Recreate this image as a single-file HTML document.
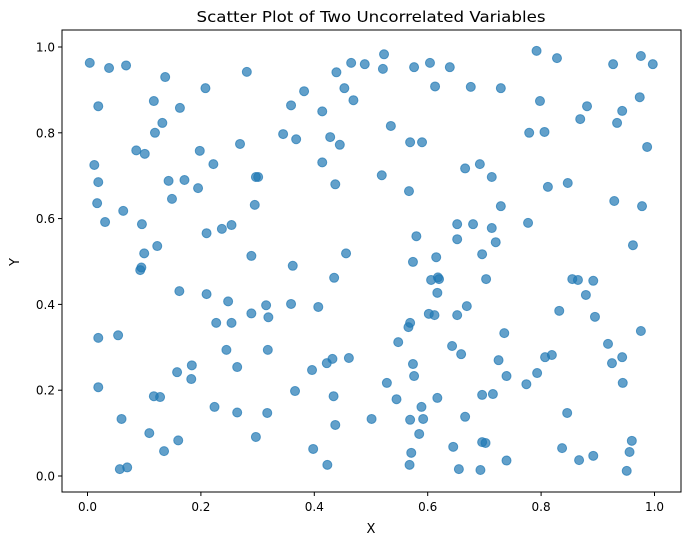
<!DOCTYPE html>
<html><head><meta charset="utf-8"><style>
html,body{margin:0;padding:0;background:#fff;}
svg{display:block;font-family:"DejaVu Sans","Liberation Sans",sans-serif;}
</style></head><body>
<svg id="chart" width="691" height="545" viewBox="0 0 691 545">
<rect x="0" y="0" width="691" height="545" fill="#fff"/>
<text x="371" y="22" text-anchor="middle" font-size="15" textLength="349" lengthAdjust="spacingAndGlyphs" fill="#000">Scatter Plot of Two Uncorrelated Variables</text>
<g id="points"></g>
<g id="axes"></g>
<rect x="62" y="30" width="619" height="462" fill="none" stroke="#000" stroke-width="1"/>
<text x="371" y="533" text-anchor="middle" font-size="13" fill="#000">X</text>
<text x="0" y="0" transform="translate(19,262) rotate(-90)" text-anchor="middle" font-size="13" fill="#000">Y</text>
</svg>
<script>
const xValues = [0.004,0.038,0.068,0.137,0.281,0.208,0.019,0.117,0.163,0.132,0.119,0.269,0.086,0.101,0.198,0.222,0.012,0.019,0.143,0.171,0.195,0.297,0.301,0.017,0.149,0.295,0.063,0.031,0.096,0.210,0.237,0.254,0.123,0.100,0.289,0.095,0.093,0.162,0.210,0.248,0.315,0.289,0.319,0.227,0.254,0.019,0.054,0.245,0.318,0.184,0.158,0.264,0.183,0.019,0.117,0.128,0.224,0.264,0.317,0.060,0.109,0.160,0.297,0.135,0.057,0.070,
0.523,0.465,0.489,0.439,0.521,0.576,0.604,0.639,0.382,0.453,0.613,0.676,0.359,0.469,0.414,0.535,0.345,0.368,0.428,0.445,0.569,0.590,0.414,0.666,0.692,0.519,0.437,0.567,0.652,0.680,0.580,0.652,0.456,0.615,0.574,0.696,0.362,
0.435,0.606,0.618,0.620,0.617,0.703,0.359,0.407,0.602,0.612,0.652,0.669,0.569,0.566,0.548,0.643,0.659,0.432,0.422,0.461,0.396,0.574,0.576,0.528,0.366,0.434,0.545,0.617,0.696,0.589,0.501,0.437,0.569,0.592,0.666,0.585,0.398,0.645,0.571,0.423,0.568,0.655,0.693,
0.792,0.828,0.927,0.976,0.997,0.729,0.798,0.881,0.869,0.943,0.934,0.974,0.779,0.806,0.987,0.713,0.812,0.847,0.929,0.978,0.729,0.713,0.777,0.720,0.962,
0.855,0.865,0.892,0.879,0.832,0.895,0.735,0.976,0.918,0.725,0.807,0.819,0.943,0.925,0.739,0.793,0.774,0.944,0.715,0.846,0.696,0.702,0.837,0.960,0.956,0.739,0.867,0.892,0.951];
const yValues = [0.963,0.951,0.957,0.930,0.942,0.904,0.862,0.874,0.858,0.823,0.800,0.774,0.759,0.751,0.758,0.727,0.725,0.685,0.688,0.690,0.671,0.697,0.697,0.636,0.646,0.632,0.618,0.592,0.587,0.566,0.576,0.585,0.536,0.519,0.513,0.486,0.480,0.431,0.424,0.407,0.398,0.379,0.370,0.357,0.357,0.322,0.328,0.294,0.294,0.258,0.242,0.254,0.226,0.207,0.186,0.184,0.161,0.148,0.147,0.133,0.100,0.083,0.091,0.058,0.016,0.020,
0.983,0.963,0.960,0.941,0.949,0.953,0.963,0.953,0.897,0.904,0.908,0.907,0.864,0.876,0.850,0.816,0.797,0.785,0.790,0.772,0.778,0.778,0.731,0.717,0.727,0.701,0.680,0.664,0.587,0.587,0.559,0.552,0.519,0.510,0.499,0.517,0.490,
0.462,0.457,0.463,0.459,0.427,0.459,0.401,0.394,0.378,0.375,0.375,0.396,0.357,0.347,0.312,0.303,0.284,0.273,0.263,0.275,0.247,0.261,0.233,0.217,0.198,0.186,0.179,0.182,0.189,0.161,0.133,0.119,0.131,0.133,0.138,0.098,0.063,0.068,0.054,0.026,0.026,0.016,0.014,
0.991,0.974,0.960,0.979,0.960,0.904,0.874,0.862,0.832,0.851,0.823,0.883,0.800,0.802,0.767,0.697,0.674,0.683,0.641,0.629,0.629,0.578,0.590,0.545,0.538,
0.459,0.457,0.455,0.422,0.385,0.371,0.333,0.338,0.308,0.270,0.277,0.282,0.277,0.263,0.233,0.240,0.214,0.217,0.191,0.147,0.079,0.077,0.065,0.082,0.056,0.036,0.037,0.047,0.012];
const xTicks = [0.0,0.2,0.4,0.6,0.8,1.0];
const xTickLabels = ["0.0","0.2","0.4","0.6","0.8","1.0"];
const yTicks = [0.0,0.2,0.4,0.6,0.8,1.0];
const yTickLabels = ["0.0","0.2","0.4","0.6","0.8","1.0"];

const NS = "http://www.w3.org/2000/svg";
function xScale(v){ return 87.5 + v*567; }
function yScale(v){ return 476 - v*429; }

const pg = document.getElementById('points');
for (let i = 0; i < xValues.length; i++) {
  const c = document.createElementNS(NS,'circle');
  c.setAttribute('cx', xScale(xValues[i]).toFixed(2));
  c.setAttribute('cy', yScale(yValues[i]).toFixed(2));
  c.setAttribute('r', 4.5);
  c.setAttribute('fill', '#1f77b4');
  c.setAttribute('fill-opacity', '0.7');
  c.setAttribute('stroke', '#1f77b4');
  c.setAttribute('stroke-opacity', '0.7');
  c.setAttribute('stroke-width', '1');
  
  
  pg.appendChild(c);
}

const ax = document.getElementById('axes');
for (let i = 0; i < xTicks.length; i++) {
  const x = xScale(xTicks[i]);
  const t = document.createElementNS(NS,'line');
  t.setAttribute('x1', x); t.setAttribute('x2', x);
  t.setAttribute('y1', 492); t.setAttribute('y2', 496);
  t.setAttribute('stroke', '#000');
  
  
  ax.appendChild(t);
  const l = document.createElementNS(NS,'text');
  l.setAttribute('x', x); l.setAttribute('y', 511);
  l.setAttribute('text-anchor', 'middle');
  l.setAttribute('font-size', '12');
  l.textContent = xTickLabels[i];
  
  
  ax.appendChild(l);
}
for (let i = 0; i < yTicks.length; i++) {
  const y = yScale(yTicks[i]);
  const t = document.createElementNS(NS,'line');
  t.setAttribute('x1', 58); t.setAttribute('x2', 62);
  t.setAttribute('y1', y); t.setAttribute('y2', y);
  t.setAttribute('stroke', '#000');
  
  
  ax.appendChild(t);
  const l = document.createElementNS(NS,'text');
  l.setAttribute('x', 55); l.setAttribute('y', y + 4.5);
  l.setAttribute('text-anchor', 'end');
  l.setAttribute('font-size', '12');
  l.textContent = yTickLabels[i];
  
  
  ax.appendChild(l);
}
</script>
</body></html>
